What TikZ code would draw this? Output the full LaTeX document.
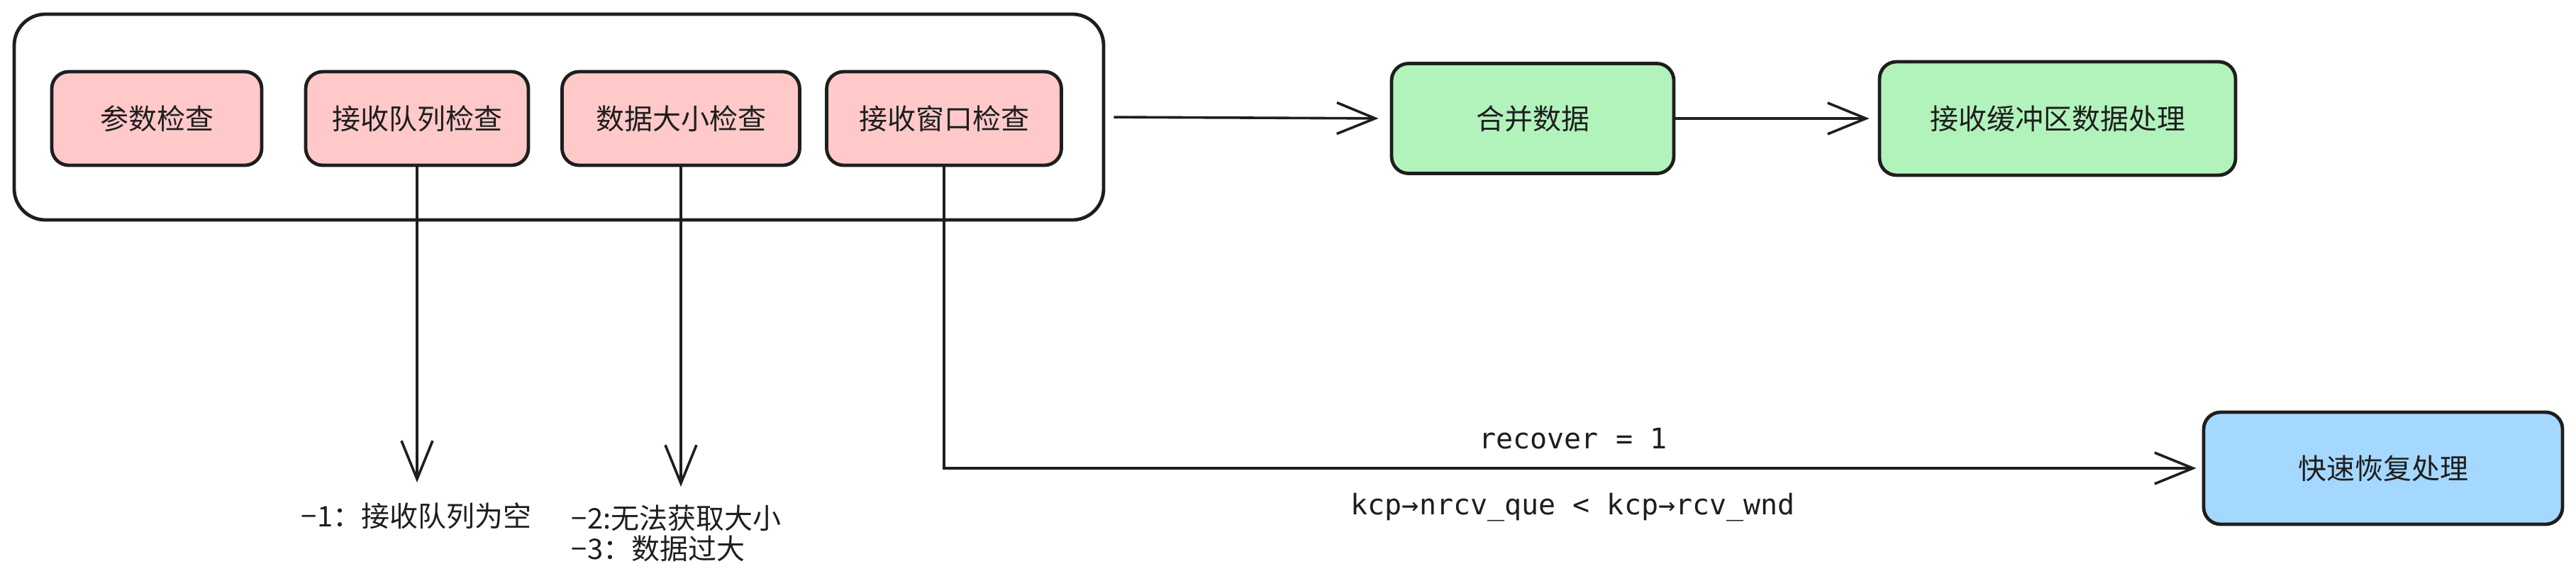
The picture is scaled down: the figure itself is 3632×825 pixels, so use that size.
\documentclass[tikz,border=0pt]{standalone}
\usepackage{fontspec}
\setmonofont{DejaVu Sans Mono}
\newfontfamily\cjk{Noto Sans CJK SC}
\usetikzlibrary{arrows.meta}
\definecolor{inkgray}{HTML}{1E1E1E}
\definecolor{checkred}{HTML}{FFC9C9}
\definecolor{mergegreen}{HTML}{B2F2BB}
\definecolor{fastblue}{HTML}{A5D8FF}
\tikzset{
  box/.style={draw=inkgray, line width=1.2pt, rounded corners=6pt, text=inkgray,
    font=\cjk\fontsize{10}{12}\selectfont, minimum height=33pt},
  link/.style={draw=inkgray, line width=0.9pt, -{Straight Barb[length=13.5pt,width=11pt]}},
  errtext/.style={font=\cjk\fontsize{10}{10.75}\selectfont, text=inkgray, align=left, inner sep=0pt},
  monotext/.style={font=\ttfamily\fontsize{10}{12}\selectfont, text=inkgray}
}

\begin{document}
\begin{tikzpicture}[x=0.25pt, y=-0.25pt]
    \useasboundingbox (0,0) rectangle (3632,825);

    % Outer container
    \node[draw=inkgray, line width=1.2pt, rounded corners=11pt, minimum width=384pt,
      minimum height=72.5pt, inner sep=0pt] (checks) at (788,165) {};

    % Check boxes
    \foreach \name/\x/\w/\txt in {chk1/221/74/参数检查, chk2/588/78.5/接收队列检查,
      chk3/960/83.75/数据大小检查, chk4/1331/82.75/接收窗口检查}
        \node[box, fill=checkred, minimum width=\w pt] (\name) at (\x,167) {\txt};

    % Data path
    \node[box, fill=mergegreen, minimum width=99.5pt, minimum height=38.75pt] (merge) at (2161,167) {合并数据};
    \node[box, fill=mergegreen, minimum width=125.5pt, minimum height=40pt] (buffer) at (2901,167) {接收缓冲区数据处理};
    \node[box, fill=fastblue, minimum width=126.5pt, minimum height=39.5pt] (fast) at (3360,660) {快速恢复处理};

    % Error codes
    \node[errtext] (err1) at (587,727) {−1：接收队列为空};
    \node[errtext, anchor=west] (err23) at (805,752) {−2:无法获取大小\\−3：数据过大};
    \coordinate (tip1) at (590,680);
    \coordinate (tip2) at (956,686);

    % Arrows
    \draw[link] (chk2.south) -- (chk2.south |- tip1);
    \draw[link] (chk3.south) -- (chk3.south |- tip2);
    \draw[link, shorten <=3pt, shorten >=4pt] (checks.east) -- (merge.west);
    \draw[link, shorten >=3pt] (merge.east) -- (buffer.west);
    \draw[link, shorten >=2pt] (chk4.south) |- (fast.west)
        node[monotext, pos=0.75, above=3pt] (rec) {recover = 1}
        node[monotext, pos=0.75, below=5pt] (cond) {kcp→nrcv\_que < kcp→rcv\_wnd};
\end{tikzpicture}
\end{document}
